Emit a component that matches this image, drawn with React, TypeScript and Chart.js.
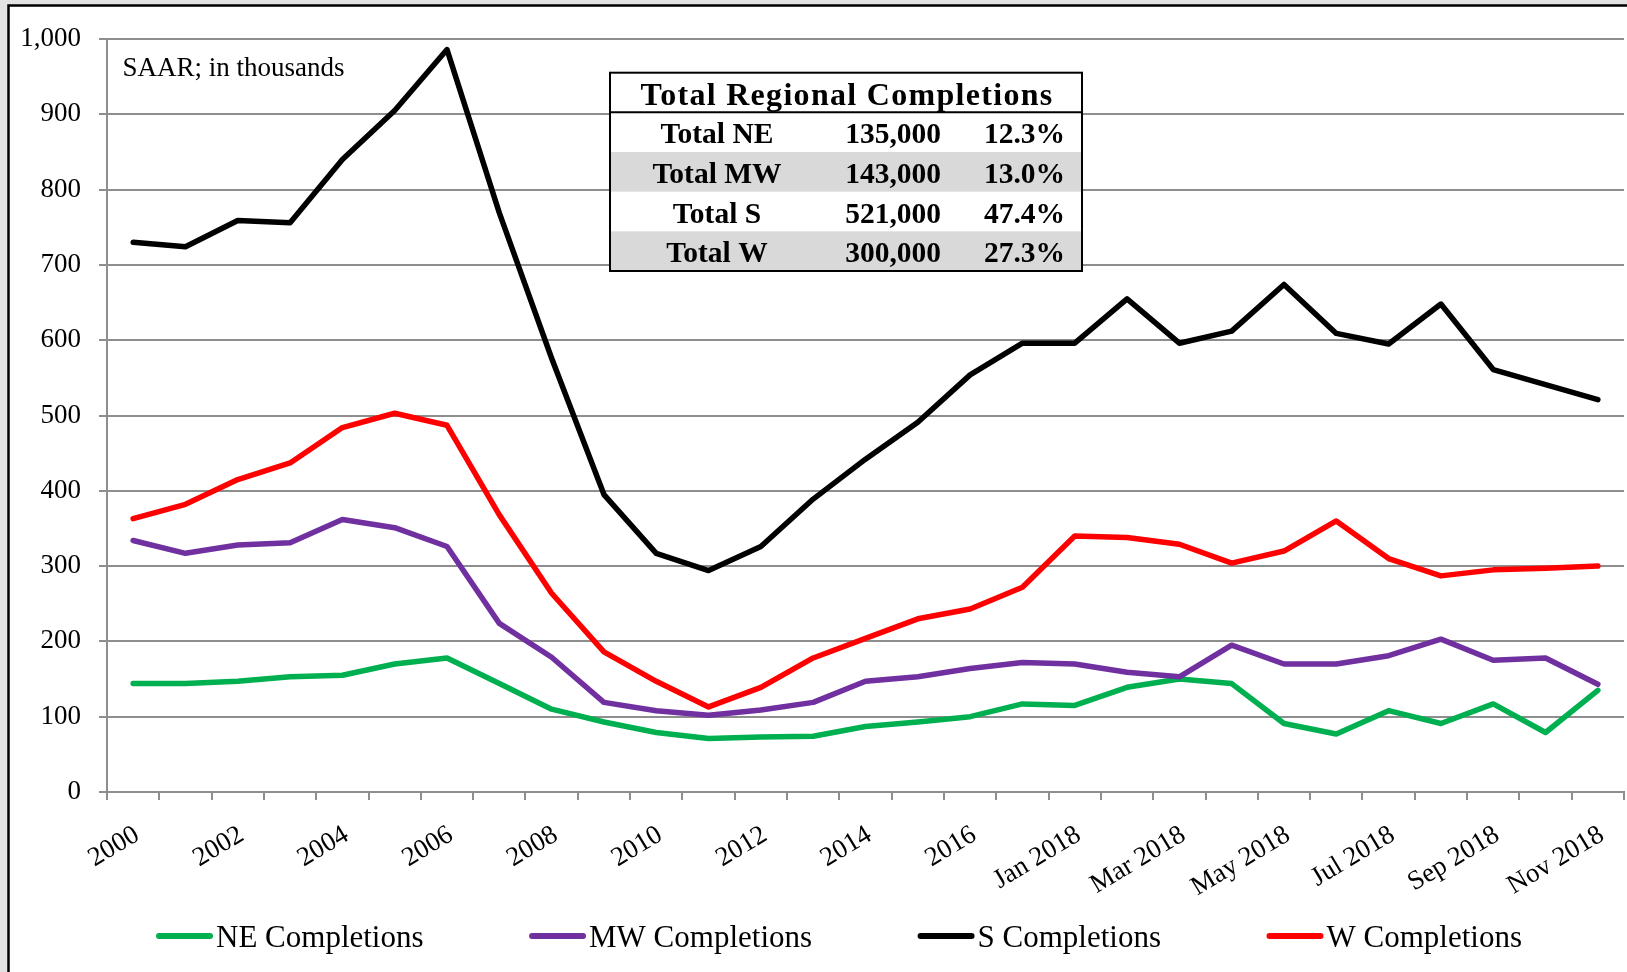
import React, { useEffect, useRef } from 'react';
import { Chart, registerables } from 'chart.js';

Chart.register(...registerables);

const categories = [
  '2000', '2001', '2002', '2003', '2004', '2005', '2006', '2007', '2008', '2009',
  '2010', '2011', '2012', '2013', '2014', '2015', '2016', '2017',
  'Jan 2018', 'Feb 2018', 'Mar 2018', 'Apr 2018', 'May 2018', 'Jun 2018',
  'Jul 2018', 'Aug 2018', 'Sep 2018', 'Oct 2018', 'Nov 2018',
];

const neValues = [144, 144, 147, 153, 155, 170, 178, 144, 110, 93, 79, 71, 73, 74, 87, 93, 100, 117, 115, 139, 150, 144, 91, 77, 108, 91, 117, 79, 135];
const mwValues = [334, 317, 328, 331, 362, 351, 326, 224, 179, 119, 108, 102, 109, 119, 147, 153, 164, 172, 170, 159, 153, 195, 170, 170, 181, 203, 175, 178, 143];
const sValues = [730, 724, 759, 756, 840, 905, 986, 769, 576, 395, 317, 294, 326, 389, 442, 491, 554, 596, 596, 655, 596, 612, 674, 609, 595, 648, 561, 541, 521];
const wValues = [363, 382, 415, 437, 484, 503, 487, 368, 264, 186, 147, 113, 139, 178, 204, 230, 243, 272, 340, 338, 329, 304, 320, 360, 310, 287, 295, 297, 300];

const seriesNames = ['NE Completions', 'MW Completions', 'S Completions', 'W Completions'];
const seriesColors = ['#00b050', '#7030a0', '#000000', '#ff0000'];

const yMin = 0;
const yMax = 1000;
const yStep = 100;

const noteText = 'SAAR; in thousands';
const tableTitle = 'Total Regional Completions';
const tableRegions = ['Total NE', 'Total MW', 'Total S', 'Total W'];
const tableTotals = ['135,000', '143,000', '521,000', '300,000'];
const tableShares = ['12.3%', '13.0%', '47.4%', '27.3%'];

const FONT = '"Liberation Serif", "Times New Roman", Times, serif';
const GRID = '#8e8e8e';

const decorPlugin = {
  id: 'decor',
  beforeDraw(chart: any) {
    const ctx = chart.ctx;
    ctx.save();
    ctx.fillStyle = '#e2e2e2';
    ctx.fillRect(0, 0, chart.width, chart.height);
    ctx.fillStyle = '#ffffff';
    ctx.fillRect(8.5, 5.5, chart.width, chart.height);
    ctx.strokeStyle = '#000000';
    ctx.lineWidth = 2.5;
    ctx.strokeRect(8.5, 5.5, chart.width + 40, chart.height + 40);
    ctx.restore();
  },
  afterDraw(chart: any) {
    const ctx = chart.ctx;
    ctx.save();

    // note
    ctx.fillStyle = '#000';
    ctx.textAlign = 'left';
    ctx.textBaseline = 'alphabetic';
    ctx.font = `27px ${FONT}`;
    ctx.fillText(noteText, 122.5, 76);

    // table
    const tx = 610, ty = 72.7, tw = 472, th = 198.3;
    const headH = 39.6;
    const rowH = (th - headH) / 4;
    ctx.fillStyle = '#ffffff';
    ctx.fillRect(tx, ty, tw, th);
    ctx.fillStyle = '#d9d9d9';
    for (let r = 0; r < tableRegions.length; r++) {
      if (r % 2 === 1) ctx.fillRect(tx, ty + headH + r * rowH, tw, rowH);
    }
    ctx.strokeStyle = '#000';
    ctx.lineWidth = 2;
    ctx.strokeRect(tx, ty, tw, th);
    ctx.beginPath();
    ctx.moveTo(tx, ty + headH);
    ctx.lineTo(tx + tw, ty + headH);
    ctx.stroke();

    ctx.fillStyle = '#000';
    ctx.font = `bold 32px ${FONT}`;
    (ctx as any).letterSpacing = '1.3px';
    const titleW = ctx.measureText(tableTitle).width;
    ctx.textAlign = 'left';
    ctx.fillText(tableTitle, 847 - titleW / 2, 105);
    (ctx as any).letterSpacing = '0px';

    ctx.font = `bold 29.5px ${FONT}`;
    for (let r = 0; r < tableRegions.length; r++) {
      const base = ty + headH + r * rowH + 31;
      ctx.textAlign = 'center';
      ctx.fillText(tableRegions[r], 717, base);
      ctx.textAlign = 'right';
      ctx.fillText(tableTotals[r], 941, base);
      ctx.fillText(tableShares[r], 1065, base);
    }

    // legend
    ctx.font = `31px ${FONT}`;
    ctx.textAlign = 'left';
    const boxW = 57, gapBT = 3, gap = 105.5;
    const datasets = chart.data.datasets;
    const widths = datasets.map((d: any) => ctx.measureText(d.label).width);
    const total = widths.reduce((a: number, w: number) => a + boxW + gapBT + w, 0) + gap * (datasets.length - 1);
    let x = 839 - total / 2;
    const cy = 936;
    datasets.forEach((d: any, i: number) => {
      ctx.strokeStyle = d.borderColor;
      ctx.lineWidth = 6;
      ctx.lineCap = 'round';
      ctx.beginPath();
      ctx.moveTo(x + 3, cy);
      ctx.lineTo(x + boxW - 3, cy);
      ctx.stroke();
      ctx.fillStyle = '#000';
      ctx.fillText(d.label, x + boxW + gapBT, 946.7);
      x += boxW + gapBT + widths[i] + gap;
    });

    ctx.restore();
  },
};

export default function App() {
  const canvasRef = useRef<HTMLCanvasElement | null>(null);

  useEffect(() => {
    if (!canvasRef.current) return;
    const seriesValues = [neValues, mwValues, sValues, wValues];
    const chart = new Chart(canvasRef.current, {
      type: 'line',
      data: {
        labels: categories,
        datasets: seriesNames.map((name, i) => ({
          label: name,
          data: seriesValues[i],
          borderColor: seriesColors[i],
          backgroundColor: seriesColors[i],
          borderWidth: 5.5,
          pointRadius: 0,
          tension: 0,
          fill: false,
          borderJoinStyle: 'round' as const,
          borderCapStyle: 'round' as const,
          order: seriesNames.length - i,
        })),
      },
      options: {
        responsive: true,
        maintainAspectRatio: false,
        animation: false,
        layout: { padding: { left: 0, right: 3, top: 39, bottom: 61 } },
        plugins: {
          legend: { display: false },
          tooltip: { enabled: false },
        },
        scales: {
          x: {
            type: 'category',
            offset: true,
            grid: {
              display: true,
              drawOnChartArea: false,
              drawTicks: true,
              tickLength: 8,
              offset: true,
              color: GRID,
              lineWidth: 2,
            },
            border: { display: true, color: GRID, width: 2 },
            ticks: {
              autoSkip: false,
              minRotation: 31,
              maxRotation: 31,
              padding: 19,
              labelOffset: 4,
              color: '#000',
              font: { family: FONT, size: 27 },
              callback: (_v: any, i: number) => (i % 2 === 0 ? categories[i] : ''),
            },
            afterFit: (s: any) => {
              s.height = 119;
              s.paddingLeft = 0;
              s.paddingRight = 0;
            },
          },
          y: {
            min: yMin,
            max: yMax,
            ticks: {
              stepSize: yStep,
              padding: 18,
              color: '#000',
              font: { family: FONT, size: 27 },
              callback: (v: any) => Number(v).toLocaleString('en-US'),
            },
            grid: { color: GRID, lineWidth: 2, drawTicks: true, tickLength: 8 },
            border: { display: true, color: GRID, width: 2 },
            afterFit: (s: any) => {
              s.width = 107;
            },
          },
        },
      },
      plugins: [decorPlugin],
    });
    return () => chart.destroy();
  }, []);

  return (
    <div style={{ position: 'fixed', left: 0, top: 0, width: 1627, height: 972 }}>
      <canvas ref={canvasRef} />
    </div>
  );
}
